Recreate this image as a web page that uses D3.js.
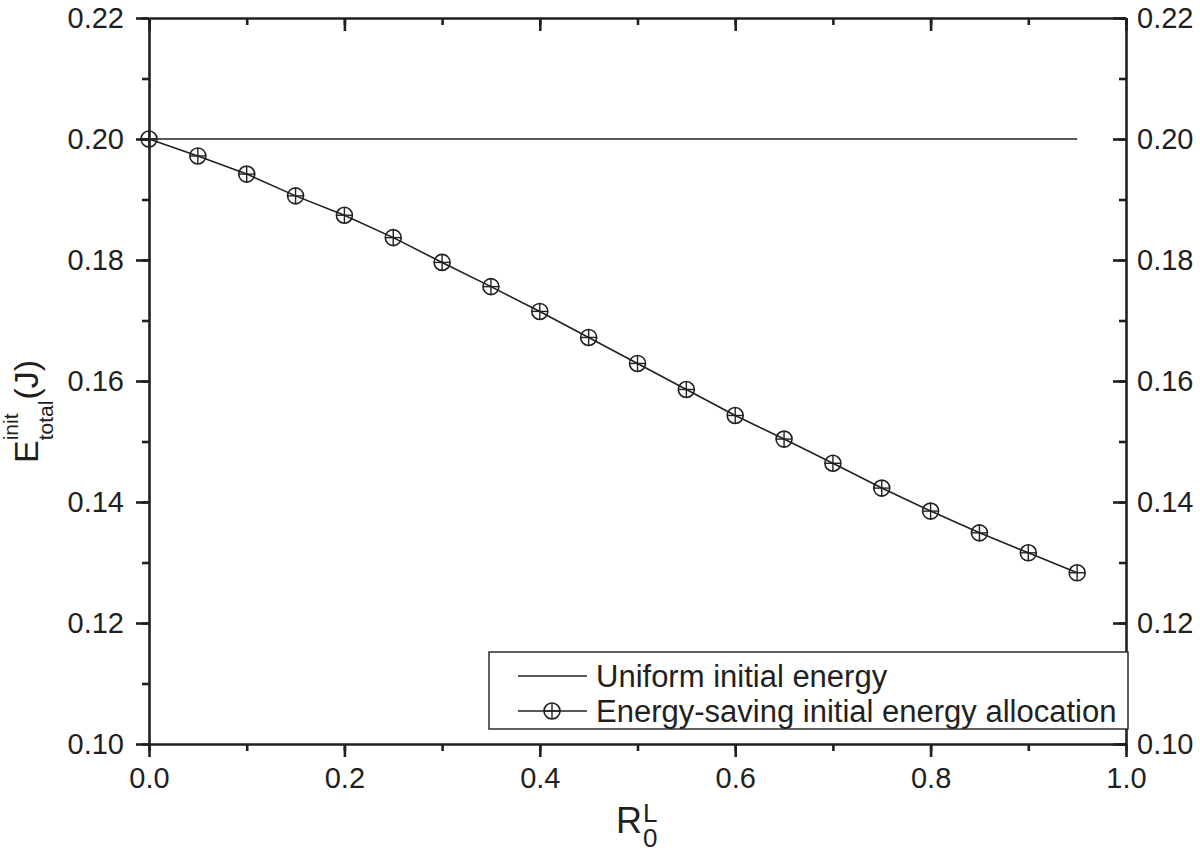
<!DOCTYPE html>
<html><head><meta charset="utf-8">
<script src="https://cdn.jsdelivr.net/npm/d3@7"></script>
<style>body{margin:0;background:#fff}text{font-family:"Liberation Sans",Arial,sans-serif;fill:#231f20}</style>
</head><body><svg id="c" width="1200" height="852"></svg>
<script>
const xVals = [0.00,0.05,0.10,0.15,0.20,0.25,0.30,0.35,0.40,0.45,0.50,0.55,0.60,0.65,0.70,0.75,0.80,0.85,0.90,0.95];
const savingVals = [0.2000,0.1972,0.1942,0.1906,0.1874,0.1837,0.1796,0.1756,0.1715,0.1672,0.1629,0.1586,0.1543,0.1504,0.1464,0.1423,0.1385,0.1349,0.1316,0.1283];
const uniformVals = xVals.map(() => 0.20);
const xTicks = [0.0,0.2,0.4,0.6,0.8,1.0];
const yTicks = [0.10,0.12,0.14,0.16,0.18,0.20,0.22];
const legendLabels = ["Uniform initial energy","Energy-saving initial energy allocation"];

const col = "#231f20";
const svg = d3.select("#c");
const L = 149, T = 18, R = 1126, B = 744;
const x = d3.scaleLinear().domain([0,1]).range([L,R]);
const y = d3.scaleLinear().domain([0.10,0.22]).range([B,T]);
const minorX = d3.range(0,1.0001,0.1), minorY = d3.range(0.10,0.2201,0.01);

function styleAxis(g){ g.selectAll("path,line").attr("stroke",col).attr("stroke-width",2.6); g.selectAll("text").attr("font-size",29).attr("fill",col); }
svg.append("g").attr("transform",`translate(0,${B})`).call(d3.axisBottom(x).tickValues(minorX).tickSize(7).tickFormat("")).call(styleAxis).select(".domain").remove();
svg.append("g").attr("transform",`translate(0,${T})`).call(d3.axisBottom(x).tickValues(minorX).tickSize(7).tickFormat("")).call(styleAxis).select(".domain").remove();
svg.append("g").attr("transform",`translate(${L},0)`).call(d3.axisLeft(y).tickValues(minorY).tickSize(7).tickFormat("")).call(styleAxis).select(".domain").remove();
svg.append("g").attr("transform",`translate(${R},0)`).call(d3.axisLeft(y).tickValues(minorY).tickSize(7).tickFormat("")).call(styleAxis).select(".domain").remove();
svg.append("g").attr("transform",`translate(0,${B})`).call(d3.axisBottom(x).tickValues(xTicks).tickSize(13).tickSizeOuter(0).tickPadding(10).tickFormat(d3.format(".1f"))).call(styleAxis);
svg.append("g").attr("transform",`translate(0,${T})`).call(d3.axisBottom(x).tickValues(xTicks).tickSize(13).tickSizeOuter(0).tickFormat("")).call(styleAxis);
svg.append("g").attr("transform",`translate(${L},0)`).call(d3.axisLeft(y).tickValues(yTicks).tickSize(13).tickSizeOuter(0).tickPadding(12).tickFormat(d3.format(".2f"))).call(styleAxis);
const gr = svg.append("g").attr("transform",`translate(${R},0)`).call(d3.axisLeft(y).tickValues(yTicks).tickSize(13).tickSizeOuter(0).tickFormat("")).call(styleAxis);
gr.selectAll(".tick").append("text").attr("x",11).attr("dy","0.32em").attr("text-anchor","start").attr("font-size",29).text(d3.format(".2f"));

const line = d3.line().x((d,i)=>x(xVals[i])).y(d=>y(d));
svg.append("path").datum(uniformVals).attr("d",line).attr("fill","none").attr("stroke",col).attr("stroke-width",1.4);
svg.append("path").datum(savingVals).attr("d",line).attr("fill","none").attr("stroke",col).attr("stroke-width",1.6);

function marker(g,cx,cy){
  const r=8;
  g.append("circle").attr("cx",cx).attr("cy",cy).attr("r",r).attr("fill","none").attr("stroke",col).attr("stroke-width",1.6);
  g.append("line").attr("x1",cx-r).attr("x2",cx+r).attr("y1",cy).attr("y2",cy).attr("stroke",col).attr("stroke-width",1.4);
  g.append("line").attr("x1",cx).attr("x2",cx).attr("y1",cy-r).attr("y2",cy+r).attr("stroke",col).attr("stroke-width",1.4);
}
const mg = svg.append("g");
savingVals.forEach((v,i)=>marker(mg,x(xVals[i]),y(v)));

const lg = svg.append("g");
lg.append("rect").attr("x",489).attr("y",652).attr("width",639).attr("height",77).attr("fill","#fff").attr("stroke",col).attr("stroke-width",1.4);
const rows=[676,711];
rows.forEach(r=>lg.append("line").attr("x1",518).attr("x2",587).attr("y1",r).attr("y2",r).attr("stroke",col).attr("stroke-width",1.4));
marker(lg,552,rows[1]);
legendLabels.forEach((t,i)=>lg.append("text").attr("x",596).attr("y",rows[i]).attr("dy","0.35em").attr("font-size",31).text(t));

const yt = svg.append("text").attr("transform","translate(38,463) rotate(-90)").attr("font-size",34);
yt.append("tspan").text("E");
const sup = yt.append("tspan").attr("font-size",21).attr("dy",-20).text("init");
const supW = sup.node().getComputedTextLength();
yt.append("tspan").attr("font-size",21).attr("dx",-supW).attr("dy",35).text("total");
yt.append("tspan").attr("dy",-15).attr("dx",1).text("(J)");

const xt = svg.append("text").attr("x",616).attr("y",833).attr("font-size",36);
xt.append("tspan").text("R");
const xs = xt.append("tspan").attr("font-size",26).attr("dy",-11).attr("dx",1).text("L");
const xsW = xs.node().getComputedTextLength();
xt.append("tspan").attr("font-size",26).attr("dx",-xsW).attr("dy",25).text("0");
</script></body></html>
